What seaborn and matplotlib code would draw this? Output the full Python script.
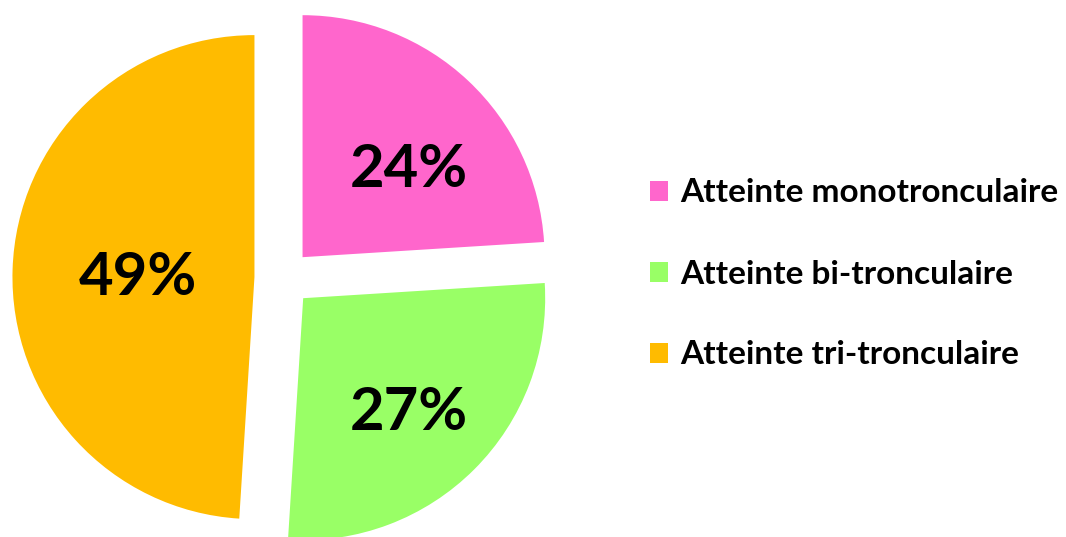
import matplotlib
matplotlib.use("Agg")
import matplotlib.pyplot as plt
from matplotlib.patches import Patch
import seaborn as sns

# Data
categories = ["Atteinte monotronculaire", "Atteinte bi-tronculaire", "Atteinte tri-tronculaire"]
shares = [24, 27, 49]
colors = ["#FF66CC", "#99FF66", "#FFBB00"]

sns.set_theme(style="white")
plt.rcParams["font.family"] = ["Lato", "DejaVu Sans"]
plt.rcParams["text.color"] = "black"

W, H, DPI = 1066, 537, 100
fig = plt.figure(figsize=(W / DPI, H / DPI), dpi=DPI)
ax = fig.add_axes([0, 0, 1, 1])

wedges, texts, autotexts = ax.pie(
    shares,
    colors=colors,
    startangle=90,
    counterclock=False,
    explode=[0.118] * len(shares),
    autopct=lambda p: f"{p:.0f}%",
    wedgeprops=dict(linewidth=0),
    textprops=dict(fontsize=43, color="black", fontweight="bold"),
)

# label placement inside each wedge
label_pos = [(0.521, 0.446), (0.521, -0.558), (-0.599, 0.0)]
for t, pos in zip(autotexts, label_pos):
    t.set_position(pos)

# scale: one radius unit = 242 px, pie centre at (283, 278) px from top-left
cx, cy, r = 283, 278, 242
ax.set_aspect("auto")
ax.set_xlim(-cx / r, (W - cx) / r)
ax.set_ylim(-(H - cy) / r, cy / r)
ax.axis("off")

handles = [Patch(facecolor=c, edgecolor="none") for c in colors]
leg = fig.legend(
    handles, categories,
    loc="center left",
    bbox_to_anchor=(650 / W, (H - 274) / H),
    frameon=False,
    prop=dict(size=24, weight="bold"),
    handlelength=0.55,
    handleheight=0.55,
    handletextpad=0.35,
    labelspacing=1.56,
    borderpad=0,
    borderaxespad=0,
)
for t in leg.get_texts():
    t.set_color("black")

fig.savefig("out.png", dpi=DPI, facecolor="white")
